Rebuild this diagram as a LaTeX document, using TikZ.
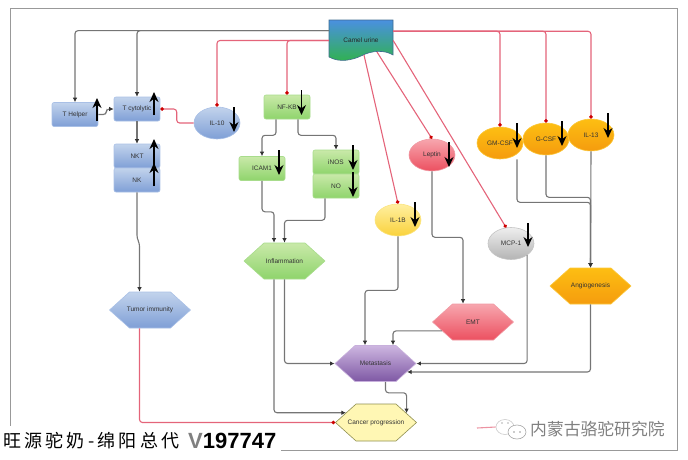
\documentclass[tikz,border=0pt]{standalone}
\usepackage{fontspec}
\setmainfont{Liberation Sans}
\newfontfamily\cjkfont[LetterSpace=18]{Noto Sans CJK SC}
\newfontfamily\markfont{Noto Sans CJK SC}
\usetikzlibrary{arrows.meta}
\usetikzlibrary{shapes.geometric}
\usetikzlibrary{shapes.symbols}
\definecolor{edgegray}{HTML}{757575}
\definecolor{edgered}{HTML}{E4647A}

\begin{document}
\begin{tikzpicture}[x=1pt,y=-1pt,font=\fontsize{6.5}{7}\selectfont]
   \useasboundingbox (0,0) rectangle (688,459);
   \tikzset{EdgeStyle/.style={draw=edgegray,line width=1.1pt,rounded corners=3pt,-{Latex[length=4.5pt,width=4.5pt,color=black!80]}}}
   \tikzset{RedEdgeStyle/.style={draw=edgered,line width=1.1pt,rounded corners=3pt,-{Circle[length=3.5pt,color=red!80!black]}}}
   \tikzset{UpMark/.style={draw=black,line width=1.3pt,-{Stealth[length=10pt,width=9pt]}}}
   \tikzset{BoxStyle/.style={rectangle,rounded corners=2pt,minimum width=46pt,minimum height=24pt,inner sep=0pt}}
   \tikzset{OvalStyle/.style={ellipse,minimum width=46pt,minimum height=32pt,inner sep=0pt}}
   \tikzset{HexStyle/.style={signal,signal to=west and east,signal pointer angle=84,minimum width=81pt,minimum height=36pt,inner sep=0pt}}
   \tikzset{VertexStyle/.style={draw,line width=0.6pt,text=black!80}}
   \draw[gray!80,line width=1pt] (10,8) rectangle (677,450.6);
   \definecolor{camelborder}{HTML}{3F6B8F}
   \definecolor{cameltop}{HTML}{4A90E0}
   \definecolor{camelbottom}{HTML}{2FB34A}
   \path[draw=camelborder,line width=0.6pt,top color=cameltop,bottom color=camelbottom]
      (329,20) -- (393,20) -- (393,55) .. controls (385,50) and (372,50) .. (361,56)
      .. controls (352,60) and (340,63) .. (329,57) -- cycle;
   \node[minimum width=64pt,minimum height=41pt,inner sep=0pt,text=black!85] (Camel) at (361,40.5) {Camel urine};
   \definecolor{topC}{HTML}{C2D3EC}\definecolor{botC}{HTML}{7F9FD6}\definecolor{lineC}{HTML}{A9C0E6}
   \tikzset{VertexStyle/.append style={draw=lineC,top color=topC,bottom color=botC}}
   \node[VertexStyle,BoxStyle] (THelper) at (75,114.5) {T Helper};
   \node[VertexStyle,BoxStyle] (TCyto) at (137,109) {T cytolytic};
   \node[VertexStyle,BoxStyle] (NKT) at (137,156) {NKT};
   \node[VertexStyle,BoxStyle] (NK) at (137,180) {NK};
   \node[VertexStyle,OvalStyle] (IL10) at (217,123) {IL-10};
   \node[VertexStyle,HexStyle] (Tumor) at (150,310) {\makebox[0pt]{Tumor immunity}};
   \definecolor{topG}{HTML}{C9E9A9}\definecolor{botG}{HTML}{8FD46C}\definecolor{lineG}{HTML}{A8DC8C}
   \tikzset{VertexStyle/.append style={draw=lineG,top color=topG,bottom color=botG}}
   \node[VertexStyle,BoxStyle] (NFKB) at (287,107) {NF-KB};
   \node[VertexStyle,BoxStyle] (ICAM) at (262,168.5) {ICAM1};
   \node[VertexStyle,BoxStyle] (iNOS) at (336,162) {iNOS};
   \node[VertexStyle,BoxStyle] (NO) at (336,186) {NO};
   \node[VertexStyle,HexStyle] (Inflam) at (284.5,261) {\makebox[0pt]{Inflammation}};
   \definecolor{topR}{HTML}{F7A6AE}\definecolor{botR}{HTML}{EC5060}\definecolor{lineR}{HTML}{F09AA4}
   \tikzset{VertexStyle/.append style={draw=lineR,top color=topR,bottom color=botR}}
   \node[VertexStyle,OvalStyle] (Leptin) at (432,155) {Leptin};
   \node[VertexStyle,HexStyle] (EMT) at (473,322) {EMT};
   \definecolor{topY}{HTML}{FFEFA0}\definecolor{botY}{HTML}{FAD23C}\definecolor{lineY}{HTML}{FBE480}
   \tikzset{VertexStyle/.append style={draw=lineY,top color=topY,bottom color=botY}}
   \node[VertexStyle,OvalStyle] (IL1B) at (398,220) {IL-1B};
   \definecolor{topS}{HTML}{EEEEEE}\definecolor{botS}{HTML}{B4B4B4}\definecolor{lineS}{HTML}{C4C4C4}
   \tikzset{VertexStyle/.append style={draw=lineS,top color=topS,bottom color=botS}}
   \node[VertexStyle,OvalStyle] (MCP) at (511,243.5) {MCP-1};
   \definecolor{topO}{HTML}{FDBE12}\definecolor{botO}{HTML}{F59C0E}\definecolor{lineO}{HTML}{FBC83C}
   \tikzset{VertexStyle/.append style={draw=lineO,top color=topO,bottom color=botO}}
   \node[VertexStyle,OvalStyle] (GMCSF) at (500,143) {GM-CSF};
   \node[VertexStyle,OvalStyle] (GCSF) at (546,139) {G-CSF};
   \node[VertexStyle,OvalStyle] (IL13) at (591,135) {IL-13};
   \node[VertexStyle,HexStyle] (Angio) at (590.5,286) {\makebox[0pt]{Angiogenesis}};
   \definecolor{topP}{HTML}{CDB6E0}\definecolor{botP}{HTML}{7E58A4}\definecolor{lineP}{HTML}{C8B0DC}
   \tikzset{VertexStyle/.append style={draw=lineP,top color=topP,bottom color=botP}}
   \node[VertexStyle,HexStyle] (Meta) at (375.5,363.5) {\makebox[0pt]{Metastasis}};
   \definecolor{topK}{HTML}{FFF7B4}\definecolor{lineK}{HTML}{8F8F50}
   \tikzset{VertexStyle/.append style={draw=lineK,top color=topK,bottom color=topK}}
   \node[VertexStyle,HexStyle,minimum height=37pt] (Cancer) at (376,422.5) {\makebox[0pt]{Cancer progression}};
   % connectors
   \draw[EdgeStyle] (Camel.163.5) -| (THelper.north);
   \draw[EdgeStyle] (Camel.163.5) -| (TCyto.north);
   \draw[EdgeStyle] (THelper.east) -- ++(8,0) |- (TCyto.west);
   \draw[EdgeStyle] (TCyto.south) -- (NKT.north);
   \draw[EdgeStyle] (NK.south) -- ++(0,46) -- ++(2.5,5) -- ([xshift=-10.5pt]Tumor.north);
   \draw[RedEdgeStyle] (Camel.west) -| (IL10.north);
   \draw[RedEdgeStyle] (Camel.west) -| (NFKB.north);
   \draw[RedEdgeStyle] (IL10.west) -- ++(-17,0) |- (TCyto.east);
   \draw[EdgeStyle] ([xshift=-11pt]NFKB.south) -- ++(0,16) -| (ICAM.north);
   \draw[EdgeStyle] ([xshift=11pt]NFKB.south) -- ++(0,16) -| (iNOS.north);
   \draw[EdgeStyle] (ICAM.south) -- ++(0,31) -| ([xshift=-10.5pt]Inflam.north);
   \draw[EdgeStyle] ([xshift=-11pt]NO.south) -- ++(0,22) -| (Inflam.north);
   \draw[EdgeStyle] ([xshift=-10.5pt]Inflam.south) |- (Cancer.162);
   \draw[EdgeStyle] (Inflam.south) |- (Meta.west);
   \draw[RedEdgeStyle] ([xshift=-10.5pt]Tumor.south) |- (Cancer.west);
   \draw[RedEdgeStyle] ([xshift=3pt,yshift=-14.5pt]Camel.center) -- (IL1B.north);
   \draw[RedEdgeStyle] ([xshift=16pt,yshift=-11.5pt]Camel.center) -- (Leptin.north);
   \draw[RedEdgeStyle] (Camel.east) -- (MCP.107);
   \draw[RedEdgeStyle] (Camel.16.5) -| (GMCSF.north);
   \draw[RedEdgeStyle] (Camel.16.5) -| (GCSF.north);
   \draw[RedEdgeStyle] (Camel.16.5) -| (IL13.north);
   \draw[EdgeStyle] (IL1B.south) -- ++(0,54) -| ([xshift=-10.5pt]Meta.north);
   \draw[EdgeStyle] (Leptin.south) -- ++(0,66) -| ([xshift=-10pt]EMT.north);
   \draw[EdgeStyle] (EMT.196) -| ([xshift=17.5pt]Meta.north);
   \draw[EdgeStyle] (MCP.-36) |- (Meta.east);
   \draw[EdgeStyle] (Angio.south) |- (Meta.-15);
   \draw[EdgeStyle] (IL13.south) -- (Angio.north);
   \draw[EdgeStyle] ([xshift=17pt]GMCSF.south) -- ++(0,43) -| (Angio.north);
   \draw[EdgeStyle] (GCSF.south) -- ++(0,42) -| (Angio.north);
   \draw[EdgeStyle] ([xshift=10pt]Meta.south) -- ++(0,11) -| (Cancer.17);
   % up and down marks
   \draw[UpMark] (97,121) -- (97,98);
   \draw[UpMark] (154,115) -- (154,92);
   \draw[UpMark] (154,168) -- (154,139);
   \draw[UpMark] (154,186) -- (154,163);
   \draw[UpMark] (234,107) -- (234,132);
   \draw[UpMark] (301.5,90) -- (301.5,115);
   \draw[UpMark] (279,150) -- (279,175);
   \draw[UpMark] (353,145) -- (353,170);
   \draw[UpMark] (353,172) -- (353,197);
   \draw[UpMark] (449,142) -- (449,167);
   \draw[UpMark] (415,202) -- (415,227);
   \draw[UpMark] (528,223) -- (528,247);
   \draw[UpMark] (517,123) -- (517,148);
   \draw[UpMark] (562,121) -- (562,146);
   \draw[UpMark] (608,113) -- (608,138);
   % bottom strip and mark
   \fill[white] (0,426) rectangle (281,459);
   \node[anchor=west,inner sep=0pt,font=\cjkfont\fontsize{18}{20}\selectfont] (BannerCn) at (3,441) {旺源驼奶-绵阳总代};
   \node[anchor=west,inner sep=0pt,font=\bfseries\fontsize{22}{23}\selectfont] (BannerId) at (188,441) {\textcolor{gray}{V}197747};
   \node[ellipse,draw=gray!40,fill=white,line width=0.6pt,minimum width=18pt,minimum height=15pt,inner sep=0pt] (WeChat) at (505,427) {};
   \node[ellipse,draw=gray!70,fill=white,line width=0.6pt,minimum width=18pt,minimum height=14pt,inner sep=0pt] (WeChatB) at (517,432) {};
   \fill[gray!60] ([xshift=-3pt,yshift=4pt]WeChat.center) circle (0.9pt) ([xshift=3pt,yshift=4pt]WeChat.center) circle (0.9pt);
   \fill[gray!80] ([xshift=-3pt]WeChatB.center) circle (0.9pt) ([xshift=3pt]WeChatB.center) circle (0.9pt);
   \coordinate (LegendEnd) at (477,428);
   \draw[edgered!70,line width=1.1pt] (LegendEnd) -- (WeChat.west);
   \node[anchor=west,inner sep=0pt,text=gray,font=\markfont\fontsize{16.8}{18}\selectfont] (Mark) at (530,429) {内蒙古骆驼研究院};
\end{tikzpicture}
\end{document}
